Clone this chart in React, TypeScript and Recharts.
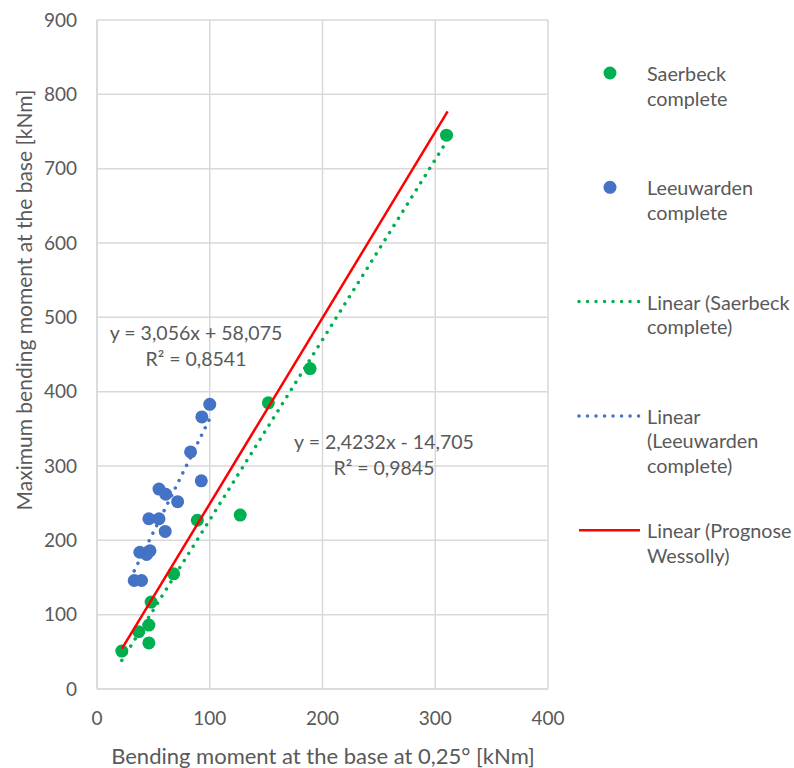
import {
  CartesianGrid,
  Label,
  ReferenceDot,
  Scatter,
  ScatterChart,
  XAxis,
  YAxis,
} from "recharts";

// Measured tower data: bending moment at 0,25° tilt vs. maximum moment
const saerbeckX = [22, 37, 46, 46, 48, 68, 89, 127, 152, 189, 310];
const saerbeckY = [51, 77, 86, 62, 117, 155, 227, 234, 385, 431, 745];

const leeuwardenX = [100, 93, 83, 92.5, 55, 61, 71.5, 46, 55, 60.5, 38, 44, 47, 33, 39.5];
const leeuwardenY = [383, 366, 319, 280, 269, 262, 252, 229, 229, 212, 184, 181, 186, 146, 146];

// Wessolly prognosis, only its fitted line is shown
const prognoseX = [22, 311];
const prognoseY = [54, 777];

// Linear fits printed on the chart
const saerbeckFit = { slope: 2.4232, intercept: -14.705, r2: 0.9845 };
const leeuwardenFit = { slope: 3.056, intercept: 58.075, r2: 0.8541 };

const xTicks = [0, 100, 200, 300, 400];
const yTicks = [0, 100, 200, 300, 400, 500, 600, 700, 800, 900];

const GREEN = "#00B050";
const BLUE = "#4472C4";
const RED = "#FF0000";
const GRID = "#D9D9D9";
const TEXT = "#595959";
const FONT = "Lato, 'Open Sans', sans-serif";

const W = 794;
const H = 768;

const toPoints = (xs: number[], ys: number[]) => xs.map((x, i) => ({ x, y: ys[i] }));

const saerbeck = toPoints(saerbeckX, saerbeckY);
const leeuwarden = toPoints(leeuwardenX, leeuwardenY);

type Fit = { slope: number; intercept: number; r2: number };

const fitSegment = (fit: Fit, xs: number[]) => {
  const x0 = Math.min(...xs);
  const x1 = Math.max(...xs);
  return [
    { x: x0, y: fit.slope * x0 + fit.intercept },
    { x: x1, y: fit.slope * x1 + fit.intercept },
  ];
};

const comma = (v: number) => String(v).replace(".", ",");

const equation = (fit: Fit) =>
  `y = ${comma(fit.slope)}x ${fit.intercept < 0 ? "-" : "+"} ${comma(Math.abs(fit.intercept))}`;

const dot = (color: string) => (p: any) => (
  <circle cx={p.cx} cy={p.cy} r={6.5} fill={color} />
);

const noMarker = () => <g />;

const dottedLine = (color: string) => ({
  stroke: color,
  strokeWidth: 3.5,
  strokeLinecap: "round" as const,
  strokeDasharray: "0.01 8.4",
});

const eqLabel = (fit: Fit) => (props: any) => {
  const { x, y } = props.viewBox;
  return (
    <text x={x} y={y} fill={TEXT} fontSize={19.5} textAnchor="middle">
      <tspan x={x} dy={-7}>{equation(fit)}</tspan>
      <tspan x={x} dy={26}>
        R² = {comma(fit.r2)}
      </tspan>
    </text>
  );
};

type LegendItem = { kind: "dot" | "dotted" | "solid"; color: string; lines: string[] };

const legendItems: LegendItem[] = [
  { kind: "dot", color: GREEN, lines: ["Saerbeck", "complete"] },
  { kind: "dot", color: BLUE, lines: ["Leeuwarden", "complete"] },
  { kind: "dotted", color: GREEN, lines: ["Linear (Saerbeck", "complete)"] },
  { kind: "dotted", color: BLUE, lines: ["Linear", "(Leeuwarden", "complete)"] },
  { kind: "solid", color: RED, lines: ["Linear (Prognose", "Wessolly)"] },
];

function ChartLegend() {
  const top = 73;
  const step = 114.3;
  const lineH = 24.5;
  return (
    <svg
      width={W}
      height={H}
      style={{ position: "absolute", left: 0, top: 0, pointerEvents: "none" }}
    >
      {legendItems.map((item, i) => {
        const cy = top + i * step;
        return (
          <g key={i}>
            {item.kind === "dot" ? (
              <circle cx={610} cy={cy} r={6.5} fill={item.color} />
            ) : (
              <line
                x1={579}
                x2={640}
                y1={cy}
                y2={cy}
                stroke={item.color}
                strokeWidth={item.kind === "solid" ? 2.5 : 3.5}
                strokeLinecap={item.kind === "solid" ? "butt" : "round"}
                strokeDasharray={item.kind === "solid" ? undefined : "0.01 8.5"}
              />
            )}
            <text x={647} y={cy} fill={TEXT} fontSize={19.8} dominantBaseline="central">
              {item.lines.map((t, j) => (
                <tspan key={j} x={647} dy={j === 0 ? 0 : lineH}>
                  {t}
                </tspan>
              ))}
            </text>
          </g>
        );
      })}
    </svg>
  );
}

export default function App() {
  const greenFit = fitSegment(saerbeckFit, saerbeckX);
  const blueFit = fitSegment(leeuwardenFit, leeuwardenX);
  const redFit = toPoints(prognoseX, prognoseY);

  return (
    <div
      style={{
        position: "absolute",
        left: 0,
        top: 0,
        width: W,
        height: H,
        background: "#fff",
        fontFamily: FONT,
      }}
    >
      <ScatterChart
        width={W}
        height={H}
        margin={{ top: 20, right: 246, bottom: 0, left: 0 }}
      >
        <CartesianGrid stroke={GRID} strokeWidth={1.5} />
        <XAxis
          type="number"
          dataKey="x"
          domain={[0, 400]}
          ticks={xTicks}
          height={79}
          tickSize={0}
          tickMargin={23}
          tickLine={false}
          axisLine={{ stroke: GRID, strokeWidth: 1.5 }}
          tick={{ fill: TEXT, fontSize: 19 }}
          label={{
            content: () => (
              <text x={323} y={755} fill={TEXT} fontSize={22} textAnchor="middle" dominantBaseline="central">
                Bending moment at the base at 0,25° [kNm]
              </text>
            ),
          }}
        />
        <YAxis
          type="number"
          dataKey="y"
          domain={[0, 900]}
          ticks={yTicks}
          width={97}
          tickSize={0}
          tickMargin={20}
          tickLine={false}
          axisLine={{ stroke: GRID, strokeWidth: 1.5 }}
          tick={{ fill: TEXT, fontSize: 19 }}
          label={{
            content: () => (
              <text
                x={23}
                y={300}
                fill={TEXT}
                fontSize={21}
                textAnchor="middle"
                dominantBaseline="central"
                transform="rotate(-90 23 300)"
              >
                Maximum bending moment at the base [kNm]
              </text>
            ),
          }}
        />
        <Scatter data={saerbeck} fill={GREEN} shape={dot(GREEN)} isAnimationActive={false} />
        <Scatter
          data={greenFit}
          shape={noMarker}
          line={dottedLine(GREEN)}
          isAnimationActive={false}
        />
        <Scatter
          data={blueFit}
          shape={noMarker}
          line={dottedLine(BLUE)}
          isAnimationActive={false}
        />
        <Scatter data={leeuwarden} fill={BLUE} shape={dot(BLUE)} isAnimationActive={false} />
        <Scatter
          data={redFit}
          shape={noMarker}
          line={{ stroke: RED, strokeWidth: 2.5 }}
          isAnimationActive={false}
        />
        <ReferenceDot x={87.8} y={460} r={0} fill="none" stroke="none">
          <Label content={eqLabel(leeuwardenFit)} />
        </ReferenceDot>
        <ReferenceDot x={254.5} y={313.5} r={0} fill="none" stroke="none">
          <Label content={eqLabel(saerbeckFit)} />
        </ReferenceDot>
      </ScatterChart>
      <ChartLegend />
    </div>
  );
}
